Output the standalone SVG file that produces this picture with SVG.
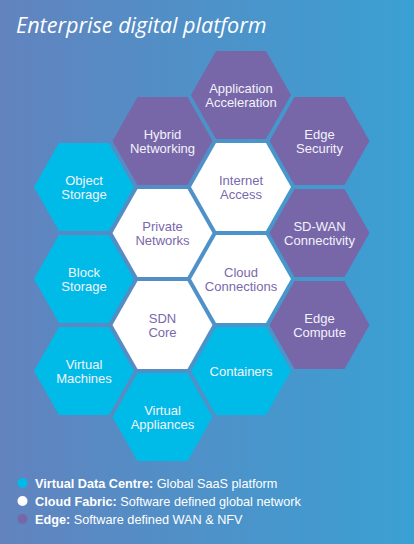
<svg xmlns="http://www.w3.org/2000/svg" width="414" height="544" viewBox="0 0 414 544">
<defs>
<linearGradient id="bg" x1="0" y1="0" x2="1" y2="0">
<stop offset="0" stop-color="#6283be"/>
<stop offset="1" stop-color="#3aa0d3"/>
</linearGradient>
<polygon id="hex" points="-50,0 -25,-44 25,-44 50,0 25,44 -25,44"/>
</defs>
<style>
.cy{fill:#00bbe7}
.pu{fill:#7767a9}
.wh{fill:#ffffff}
text{font-family:"Liberation Sans",Arial,sans-serif;font-size:13px;text-anchor:middle}
.tw{fill:#f4f2fa}
.tp{fill:#7a68aa}
.title{font-family:"Open Sans","Liberation Sans",sans-serif;font-style:italic;font-size:21.6px;fill:#ffffff;text-anchor:start}
.lg{font-size:12.7px;fill:#ffffff;text-anchor:start}
.b{font-weight:bold}
</style>
<rect width="414" height="544" fill="url(#bg)"/>
<text class="title" x="16" y="33">Enterprise digital platform</text>

<g id="app-acceleration"><use href="#hex" class="pu" x="241" y="95"/><text class="tw" x="241" y="92.5">Application</text><text class="tw" x="241" y="107">Acceleration</text></g>
<g id="hybrid-networking"><use href="#hex" class="pu" x="162.5" y="141"/><text class="tw" x="162.5" y="138.5">Hybrid</text><text class="tw" x="162.5" y="153">Networking</text></g>
<g id="edge-security"><use href="#hex" class="pu" x="319.5" y="141"/><text class="tw" x="319.5" y="138.5">Edge</text><text class="tw" x="319.5" y="153">Security</text></g>
<g id="sd-wan"><use href="#hex" class="pu" x="319.5" y="233"/><text class="tw" x="319.5" y="230.5">SD-WAN</text><text class="tw" x="319.5" y="245">Connectivity</text></g>
<g id="edge-compute"><use href="#hex" class="pu" x="319.5" y="325"/><text class="tw" x="319.5" y="322.5">Edge</text><text class="tw" x="319.5" y="337">Compute</text></g>

<g id="internet-access"><use href="#hex" class="wh" x="241" y="187"/><text class="tp" x="241" y="184.5">Internet</text><text class="tp" x="241" y="199">Access</text></g>
<g id="private-networks"><use href="#hex" class="wh" x="162.5" y="233"/><text class="tp" x="162.5" y="230.5">Private</text><text class="tp" x="162.5" y="245">Networks</text></g>
<g id="cloud-connections"><use href="#hex" class="wh" x="241" y="279"/><text class="tp" x="241" y="276.5">Cloud</text><text class="tp" x="241" y="291">Connections</text></g>
<g id="sdn-core"><use href="#hex" class="wh" x="162.5" y="325"/><text class="tp" x="162.5" y="322.5">SDN</text><text class="tp" x="162.5" y="337">Core</text></g>

<g id="object-storage"><use href="#hex" class="cy" x="84" y="187"/><text class="tw" x="84" y="184.5">Object</text><text class="tw" x="84" y="199">Storage</text></g>
<g id="block-storage"><use href="#hex" class="cy" x="84" y="279"/><text class="tw" x="84" y="276.5">Block</text><text class="tw" x="84" y="291">Storage</text></g>
<g id="virtual-machines"><use href="#hex" class="cy" x="84" y="371"/><text class="tw" x="84" y="368.5">Virtual</text><text class="tw" x="84" y="383">Machines</text></g>
<g id="containers"><use href="#hex" class="cy" x="241" y="371"/><text class="tw" x="241" y="375.5">Containers</text></g>
<g id="virtual-appliances"><use href="#hex" class="cy" x="162.5" y="417"/><text class="tw" x="162.5" y="414.5">Virtual</text><text class="tw" x="162.5" y="429">Appliances</text></g>

<g id="connectors"></g>

<g id="legend">
<circle cx="22.5" cy="483" r="5" class="cy"/>
<circle cx="22.5" cy="501" r="5" class="wh"/>
<circle cx="22.5" cy="519" r="5" class="pu"/>
<text class="lg" x="35" y="487.5"><tspan class="b">Virtual Data Centre:</tspan> Global SaaS platform</text>
<text class="lg" x="35" y="505.5"><tspan class="b">Cloud Fabric:</tspan> Software defined global network</text>
<text class="lg" x="35" y="523.5"><tspan class="b">Edge:</tspan> Software defined WAN &amp; NFV</text>
</g>
</svg>
